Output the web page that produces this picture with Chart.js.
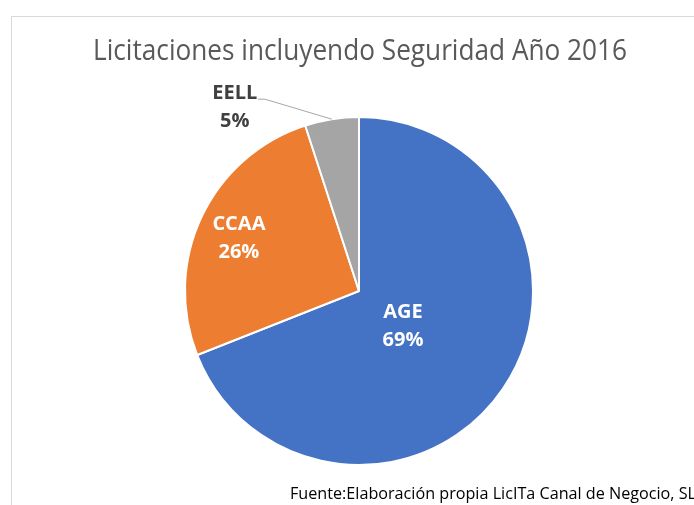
<!DOCTYPE html>
<html>
<head>
<meta charset="utf-8">
<script src="https://cdn.jsdelivr.net/npm/chart.js@4.4.1/dist/chart.umd.min.js"></script>
<style>
  html, body { margin: 0; padding: 0; background: #fff; }
  #wrap { position: relative; width: 694px; height: 505px; }
</style>
</head>
<body>
<div id="wrap"><canvas id="pieChart" width="694" height="505"></canvas></div>
<script>
// datos del gráfico
const categories = ['AGE', 'CCAA', 'EELL'];
const values = [69, 26, 5];
const sliceColors = ['#4472C4', '#ED7D31', '#A5A5A5'];
const chartTitle = 'Licitaciones incluyendo Seguridad Año 2016';
const footerText = 'Fuente:Elaboración propia LicITa Canal de Negocio, SL';

const FONT = '"Open Sans", "Liberation Sans", sans-serif';

// dibuja texto ajustado a un ancho dado (imita Calibri, más estrecha)
function fitText(ctx, text, x, y, width, font) {
    ctx.font = font;
    const w = ctx.measureText(text).width;
    ctx.save();
    ctx.translate(x, y);
    ctx.scale(width / w, 1);
    ctx.fillText(text, 0, 0);
    ctx.restore();
}

const decorPlugin = {
    id: 'decor',
    beforeDraw(chart) {
        const ctx = chart.ctx;
        ctx.save();
        ctx.strokeStyle = '#D9D9D9';
        ctx.lineWidth = 1;
        ctx.strokeRect(11.5, 16.5, 900, 700);
        ctx.restore();
    },
    afterDraw(chart) {
        const ctx = chart.ctx;
        const total = values.reduce((a, b) => a + b, 0);
        ctx.save();
        // título
        ctx.fillStyle = '#595959';
        ctx.textBaseline = 'alphabetic';
        ctx.textAlign = 'left';
        fitText(ctx, chartTitle, 93, 60, 534, '30px ' + FONT);
        // fuente
        ctx.fillStyle = '#000000';
        fitText(ctx, footerText, 290, 499, 406, '16px ' + FONT);

        // etiquetas de datos
        const meta = chart.getDatasetMeta(0);
        const fractions = [0.32, 0.75, null];
        meta.data.forEach((arc, i) => {
            const mid = (arc.startAngle + arc.endAngle) / 2;
            const pct = Math.round(values[i] / total * 100) + '%';
            ctx.font = 'bold 20px ' + FONT;
            ctx.textAlign = 'center';
            ctx.textBaseline = 'middle';
            if (fractions[i] !== null) {
                const r = arc.outerRadius * fractions[i];
                const x = arc.x + Math.cos(mid) * r;
                const y = arc.y + Math.sin(mid) * r + (i === 0 ? 4 : 3);
                ctx.fillStyle = '#FFFFFF';
                ctx.fillText(categories[i], x - 2, y - 14);
                ctx.fillText(pct, x - 2, y + 14);
            } else {
                // etiqueta exterior con línea guía
                const ax = arc.x + Math.cos(mid) * arc.outerRadius;
                const ay = arc.y + Math.sin(mid) * arc.outerRadius;
                ctx.strokeStyle = '#A6A6A6';
                ctx.lineWidth = 1;
                ctx.beginPath();
                ctx.moveTo(ax, ay);
                ctx.lineTo(ax - 67, ay - 20);
                ctx.lineTo(ax - 74, ay - 20);
                ctx.stroke();
                ctx.fillStyle = '#404040';
                ctx.fillText(categories[i], ax - 97, ay - 26);
                ctx.fillText(pct, ax - 97, ay + 2);
            }
        });
        ctx.restore();
    }
};

new Chart(document.getElementById('pieChart').getContext('2d'), {
    type: 'pie',
    data: {
        labels: categories,
        datasets: [{
            data: values,
            backgroundColor: sliceColors,
            borderColor: '#FFFFFF',
            borderWidth: 2
        }]
    },
    options: {
        responsive: false,
        animation: false,
        layout: { padding: { left: 184, right: 160, top: 116, bottom: 39 } },
        plugins: {
            legend: { display: false },
            tooltip: { enabled: false },
            title: { display: false }
        }
    },
    plugins: [decorPlugin]
});
</script>
</body>
</html>
